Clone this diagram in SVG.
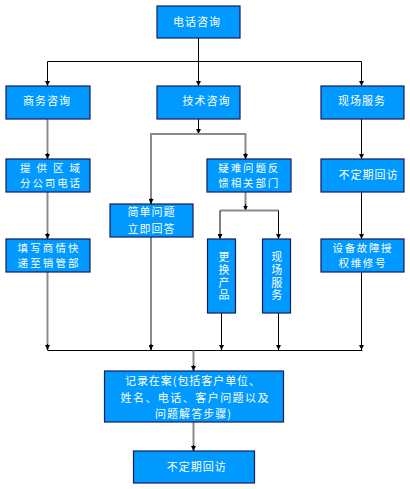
<svg xmlns="http://www.w3.org/2000/svg" width="410" height="489" viewBox="0 0 410 489">
<style>
.box{fill:#0099ff;stroke:#141c5c;stroke-width:1.2}
.t{fill:#ffffff;font-family:"Noto Sans CJK SC","Noto Sans",sans-serif;font-size:11px;text-anchor:middle}
.s{font-size:10.5px}
.v{writing-mode:vertical-rl;letter-spacing:1.6px}
.k{fill:none;stroke:#000000;stroke-width:1}
.g{fill:none;stroke:#8a8a94;stroke-width:2}
</style>
<defs>
<marker id="ah" viewBox="0 0 6 6" refX="6" refY="3" markerWidth="5" markerHeight="5" markerUnits="userSpaceOnUse" orient="auto">
<path d="M0,0 L6,3 L0,6 z" fill="#000000"/>
</marker>
</defs>
<rect width="410" height="489" fill="#ffffff"/>
<g id="connectors">
<path class="k" d="M198.5,38 V86" marker-end="url(#ah)"/>
<path class="k" d="M47.5,61.5 H361.5"/>
<path class="k" d="M47.5,61.5 V86" marker-end="url(#ah)"/>
<path class="k" d="M361.5,61.5 V86" marker-end="url(#ah)"/>
<path class="k" d="M198.5,119 V134" marker-end="url(#ah)"/>
<path class="g" d="M151,204 V134 H245.5 V159"/>
<path class="k" d="M151,198 V204" marker-end="url(#ah)"/>
<path class="k" d="M245.5,153 V159" marker-end="url(#ah)"/>
<path class="k" d="M361.5,119 V159" marker-end="url(#ah)"/>
<path class="k" d="M361.5,192 V239" marker-end="url(#ah)"/>
<path class="k" d="M361.5,272 V350" marker-end="url(#ah)"/>
<path class="g" d="M47.5,119 V159"/>
<path class="k" d="M47.5,153 V159" marker-end="url(#ah)"/>
<path class="g" d="M47.5,192 V239"/>
<path class="k" d="M47.5,233 V239" marker-end="url(#ah)"/>
<path class="g" d="M47.5,272 V350"/>
<path class="k" d="M47.5,344 V350" marker-end="url(#ah)"/>
<path class="g" d="M151,237 V350"/>
<path class="k" d="M151,344 V350" marker-end="url(#ah)"/>
<path class="g" d="M245.5,192 V210.5"/>
<path class="k" d="M245.5,204 V210.5" marker-end="url(#ah)"/>
<path class="g" d="M220,210.5 H278.5"/>
<path class="k" d="M220,210.5 V239" marker-end="url(#ah)"/>
<path class="k" d="M278.5,210.5 V239" marker-end="url(#ah)"/>
<path class="k" d="M221.5,313 V350" marker-end="url(#ah)"/>
<path class="k" d="M278.5,313 V350" marker-end="url(#ah)"/>
<path class="k" d="M47.5,350.5 H362.5"/>
<path class="g" d="M193.5,350.5 V371"/>
<path class="k" d="M193.5,365 V371" marker-end="url(#ah)"/>
<path class="g" d="M193.5,422 V451"/>
<path class="k" d="M193.5,445 V451" marker-end="url(#ah)"/>
</g>
<g id="n1"><rect class="box" x="157" y="6" width="83" height="32"/><text class="t" x="196.5" y="26" textLength="47">电话咨询</text></g>
<g id="n2"><rect class="box" x="6" y="86" width="84" height="33"/><text class="t" x="46.5" y="105" textLength="47">商务咨询</text></g>
<g id="n3"><rect class="box" x="157" y="86" width="83" height="33"/><text class="t" x="206" y="105" textLength="47">技术咨询</text></g>
<g id="n4"><rect class="box" x="321" y="86" width="83" height="33"/><text class="t" x="361.5" y="105" textLength="47">现场服务</text></g>
<g id="n5"><rect class="box" x="6" y="159" width="84" height="33"/><text class="t s"><tspan x="50" y="171.9" textLength="60">提供区域</tspan><tspan x="50" y="187.3" textLength="60">分公司电话</tspan></text></g>
<g id="n6"><rect class="box" x="207" y="159" width="84" height="33"/><text class="t s"><tspan x="248.3" y="171.9" textLength="60">疑难问题反</tspan><tspan x="248.3" y="187.3" textLength="60">馈相关部门</tspan></text></g>
<g id="n7"><rect class="box" x="321" y="159" width="83" height="33"/><text class="t" x="368" y="179" textLength="59">不定期回访</text></g>
<g id="n8"><rect class="box" x="110" y="204" width="83" height="33"/><text class="t"><tspan x="151" y="216.3" textLength="47">简单问题</tspan><tspan x="151" y="233" textLength="47">立即回答</tspan></text></g>
<g id="n9"><rect class="box" x="6" y="239" width="84" height="33"/><text class="t s"><tspan x="48" y="251.8" textLength="61">填写商情快</tspan><tspan x="48" y="267.2" textLength="61">递至销管部</tspan></text></g>
<g id="n10"><rect class="box" x="321" y="239" width="83" height="33"/><text class="t s"><tspan x="362" y="251.8" textLength="59">设备故障授</tspan><tspan x="362" y="267.2" textLength="47">权维修号</tspan></text></g>
<g id="n11"><rect class="box" x="207.5" y="239" width="28" height="74"/><text class="t v" x="224" y="277">更换产品</text></g>
<g id="n12"><rect class="box" x="262.5" y="239" width="28" height="74"/><text class="t v" x="276.7" y="277">现场服务</text></g>
<g id="n13"><rect class="box" x="104.5" y="371" width="179" height="51"/><text class="t"><tspan x="192.5" y="385" textLength="135">记录在案(包括客户单位、</tspan><tspan x="194.5" y="402.3" textLength="148">姓名、电话、客户问题以及</tspan><tspan x="193" y="418.3" textLength="76">问题解答步骤)</tspan></text></g>
<g id="n14"><rect class="box" x="133.5" y="451" width="121" height="32"/><text class="t" x="196.2" y="470.7" textLength="59">不定期回访</text></g>
</svg>
